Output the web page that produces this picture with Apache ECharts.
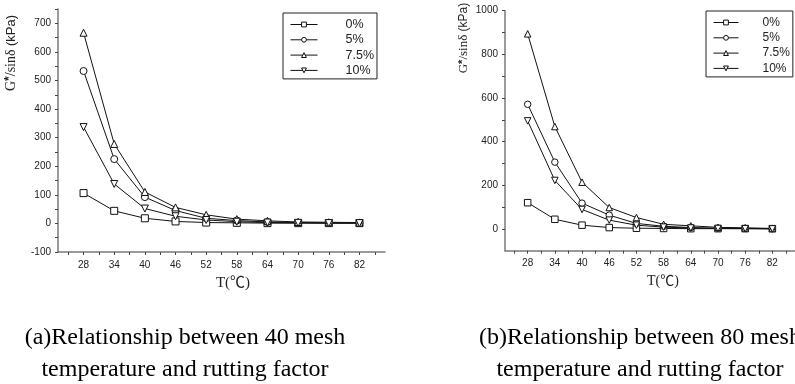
<!DOCTYPE html>
<html>
<head>
<meta charset="utf-8">
<script src="https://cdn.jsdelivr.net/npm/echarts@6/dist/echarts.min.js"></script>
<style>
  html, body { margin: 0; padding: 0; background: #fff; }
  #chart { width: 795px; height: 384px; }
</style>
</head>
<body>
<div id="chart"></div>
<script>
// temperature (℃)
var temps = [28, 34, 40, 46, 52, 58, 64, 70, 76, 82];
var names = ['0%', '5%', '7.5%', '10%'];

// (a) 40 mesh, G*/sinδ (kPa)
var mesh40_0 = [106, 44, 18, 7, 3, 2, 1, 1, 1, 1];
var mesh40_5 = [533, 225, 92, 45, 18, 10, 5, 3, 2, 2];
var mesh40_75 = [667, 278, 110, 56, 30, 15, 9, 5, 4, 3];
var mesh40_10 = [337, 138, 52, 25, 12, 6, 3, 2, 1, 1];

// (b) 80 mesh
var mesh80_0 = [120, 44, 17, 6, 3, 2, 1, 1, 1, 1];
var mesh80_5 = [571, 306, 118, 63, 25, 12, 6, 3, 2, 1];
var mesh80_75 = [894, 469, 214, 98, 52, 21, 14, 7, 5, 2];
var mesh80_10 = [495, 222, 89, 40, 17, 8, 4, 2, 1, 0];

var xLabels = [28, 34, 40, 46, 52, 58, 64, 70, 76, 82];
var xTicks = [25, 28, 31, 34, 37, 40, 43, 46, 49, 52, 55, 58, 61, 64, 67, 70, 73, 76, 79, 82, 85];
var yLabelsA = [-100, 0, 100, 200, 300, 400, 500, 600, 700];
var yTicksA = [-100, -50, 0, 50, 100, 150, 200, 250, 300, 350, 400, 450, 500, 550, 600, 650, 700, 750];
var yLabelsB = [0, 200, 400, 600, 800, 1000];
var yTicksB = [0, 100, 200, 300, 400, 500, 600, 700, 800, 900, 1000];

var symbols = ['rect', 'circle', 'triangle', 'path://M0,0 L10,0 L5,9 Z'];

function pairs(vals) {
  return temps.map(function (t, i) { return [t, vals[i]]; });
}

var axisColor = '#7a7a7a';
var labelFont = { fontFamily: 'Liberation Sans, Arial, sans-serif', fontSize: 10, color: '#222' };

function xAxis(idx) {
  return {
    type: 'value', gridIndex: idx, min: 23, max: 87,
    axisLine: { onZero: false, lineStyle: { color: axisColor, width: 1.5 } },
    axisTick: { show: true, customValues: xTicks, length: 3, lineStyle: { color: '#444' } },
    axisLabel: Object.assign({ customValues: xLabels, margin: 8 }, labelFont),
    splitLine: { show: false }
  };
}

function yAxis(idx, min, max, labels, ticks) {
  return {
    type: 'value', gridIndex: idx, min: min, max: max,
    axisLine: { show: true, onZero: false, lineStyle: { color: axisColor, width: 1.5 } },
    axisTick: { show: true, customValues: ticks, length: 3, lineStyle: { color: '#444' } },
    axisLabel: Object.assign({ customValues: labels, margin: 7, formatter: function (v) { return String(v); } }, labelFont),
    splitLine: { show: false }
  };
}

function makeSeries(idx, list, size) {
  return list.map(function (vals, i) {
    return {
      name: names[i], type: 'line', xAxisIndex: idx, yAxisIndex: idx,
      data: pairs(vals),
      symbol: symbols[i], symbolSize: size,
      showAllSymbol: true,
      lineStyle: { color: '#111', width: 1 },
      itemStyle: { color: '#fff', borderColor: '#111', borderWidth: 1 },
      emphasis: { disabled: true },
      animation: false
    };
  });
}

function legend(left, top, itemWidth, pad, textPad, fontSize) {
  return {
    orient: 'vertical', left: left, top: top,
    data: names,
    itemWidth: itemWidth, itemHeight: 6, itemGap: 2.3,
    padding: pad,
    borderColor: '#222', borderWidth: 1, borderRadius: 0,
    backgroundColor: '#fff',
    selectedMode: false,
    lineStyle: { width: 1, color: '#111' },
    itemStyle: { color: '#fff', borderColor: '#111', borderWidth: 1 },
    textStyle: { fontFamily: 'Liberation Sans, Arial, sans-serif', fontSize: fontSize, lineHeight: 13, color: '#222', padding: [0, 0, 0, textPad] }
  };
}

function yName(x, y, size) {
  return {
    type: 'text', x: x, y: y, rotation: Math.PI / 2,
    style: {
      text: '{a|G}{s|*}{a|/sinδ} {b|(kPa)}',
      textAlign: 'center', textVerticalAlign: 'middle',
      rich: {
        a: { fontFamily: 'Liberation Serif, serif', fontSize: size, fill: '#222' },
        s: { fontFamily: 'Liberation Sans, sans-serif', fontSize: size - 2, fontWeight: 'bold', fill: '#222', verticalAlign: 'top' },
        b: { fontFamily: 'Liberation Sans, sans-serif', fontSize: size - 1, fill: '#222' }
      }
    }
  };
}

function caption(x, y, txt) {
  return {
    type: 'text', x: x, y: y,
    style: { text: txt, textAlign: 'center', textVerticalAlign: 'middle', fontFamily: 'Liberation Serif, Times New Roman, serif', fontSize: 24, fill: '#000' }
  };
}

function xName(x, y, size) {
  return {
    type: 'text', x: x, y: y,
    style: { text: 'T(℃)', textAlign: 'center', textVerticalAlign: 'middle', fontFamily: 'Liberation Serif, Noto Sans CJK SC, serif', fontSize: size, fill: '#222' }
  };
}

var chart = echarts.init(document.getElementById('chart'));
chart.setOption({
  animation: false,
  grid: [
    { left: 58, top: 9, width: 327, height: 243 },
    { left: 505, top: 10.7, width: 294.4, height: 240 }
  ],
  xAxis: [xAxis(0), xAxis(1)],
  yAxis: [
    yAxis(0, -100, 750, yLabelsA, yTicksA),
    yAxis(1, -100, 1000, yLabelsB, yTicksB)
  ],
  legend: [
    legend(283, 13, 27, [5, 3, 2, 7], 23, 12.5),
    legend(706, 11, 25, [5, 3, 2, 7], 19, 12)
  ],
  series: makeSeries(0, [mesh40_0, mesh40_5, mesh40_75, mesh40_10], 7)
    .concat(makeSeries(1, [mesh80_0, mesh80_5, mesh80_75, mesh80_10], 6.5)),
  graphic: [
    yName(11, 53, 14),
    yName(464, 38, 13),
    xName(233, 283, 15),
    xName(663, 281, 14),
    caption(185, 338, '(a)Relationship between 40 mesh'),
    caption(185, 370, 'temperature and rutting factor'),
    caption(640, 338, '(b)Relationship between 80 mesh'),
    caption(640, 370, 'temperature and rutting factor')
  ]
});
</script>
</body>
</html>
